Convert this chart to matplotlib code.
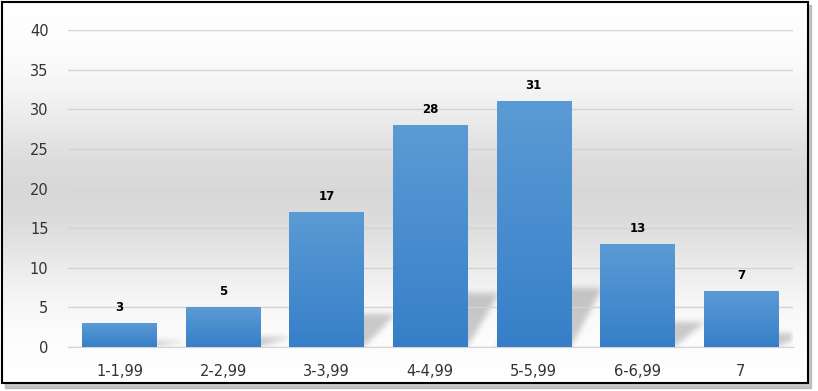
import matplotlib.pyplot as plt
import numpy as np
from matplotlib.patches import Rectangle

# 범주와 값
categories = ['1-1,99', '2-2,99', '3-3,99', '4-4,99', '5-5,99', '6-6,99', '7']
values = [3, 5, 17, 28, 31, 13, 7]
yticks = [0, 5, 10, 15, 20, 25, 30, 35, 40]

fig = plt.figure(figsize=(8.18, 3.91), dpi=100)

# 배경 (테두리 + 그림자 + 회색 그라데이션)
bg = fig.add_axes([0, 0, 1, 1], zorder=-10)
bg.axis('off')
bg.add_patch(Rectangle((5, 5), 806, 383, color='#a0a0a0', alpha=0.6, zorder=-2))
g = np.linspace(0, 1, 300)
shade = 1 - 0.15 * np.exp(-((g - 0.5) / 0.24) ** 2)
img = np.repeat(shade[:, None, None], 3, axis=2).repeat(2, axis=1)
bg.imshow(img, extent=(2, 808, 383, 2), aspect='auto', zorder=0)
bg.add_patch(Rectangle((2, 2), 806, 381, fill=False, ec='black', lw=1.5, zorder=2))
bg.set_xlim(0, 818)
bg.set_ylim(391, 0)

ax = fig.add_axes([0.083, 0.1125, 0.886, 0.8105])
ax.patch.set_alpha(0)
x = np.arange(len(categories))
w = 0.72
xmin, xmax, ymax = -0.5, len(categories) - 0.5, 40

# 막대 뒤 그림자 (흐릿하게)
nx, ny = 725, 317
X, Y = np.meshgrid(np.linspace(xmin, xmax, nx), np.linspace(ymax, 0, ny))
mask = np.zeros((ny, nx))
d = 0.3
for xi, v in zip(x, values):
    h = 0.24 * v
    off = d * Y / h
    inside = (Y >= 0) & (Y <= h) & (X >= xi - w / 2 + off) & (X <= xi + w / 2 + off)
    mask[inside] = 1

def blur(a, r):
    k = np.ones(2 * r + 1) / (2 * r + 1)
    a = np.apply_along_axis(lambda m: np.convolve(m, k, mode='same'), 1, a)
    a = np.apply_along_axis(lambda m: np.convolve(m, k, mode='same'), 0, a)
    return a

mask = blur(blur(mask, 3), 3)
sh = np.zeros((ny, nx, 4))
sh[..., 3] = 0.2 * mask
ax.imshow(sh, extent=(xmin, xmax, 0, ymax), aspect='auto', zorder=0.4)

# 그라데이션 막대
top = np.array([0x5b, 0x9b, 0xd5]) / 255
bot = np.array([0x36, 0x7f, 0xc8]) / 255
t = np.linspace(0, 1, 100)[:, None]
grad = (top * (1 - t) + bot * t)[:, None, :].repeat(2, axis=1)
for xi, v in zip(x, values):
    ax.imshow(grad, extent=(xi - w / 2, xi + w / 2, 0, v), aspect='auto', zorder=3)
    ax.text(xi, v + 1.2, str(v), ha='center', va='bottom', fontsize=8.5,
            fontweight='bold', color='black', zorder=4)
ax.set_xlim(xmin, xmax)
ax.set_ylim(0, ymax)

ax.set_yticks(yticks)
ax.set_xticks(x)
ax.set_xticklabels(categories)
ax.tick_params(length=0, labelsize=10.5, labelcolor='#333333')
ax.tick_params(axis='x', pad=12)
ax.tick_params(axis='y', pad=14)
ax.grid(axis='y', color='#d4d4d4', lw=1, zorder=0.5)
ax.set_axisbelow(True)
for s in ['top', 'right', 'left']:
    ax.spines[s].set_visible(False)
ax.spines['bottom'].set_color('#d4d4d4')

plt.savefig('out.png', dpi=100)
